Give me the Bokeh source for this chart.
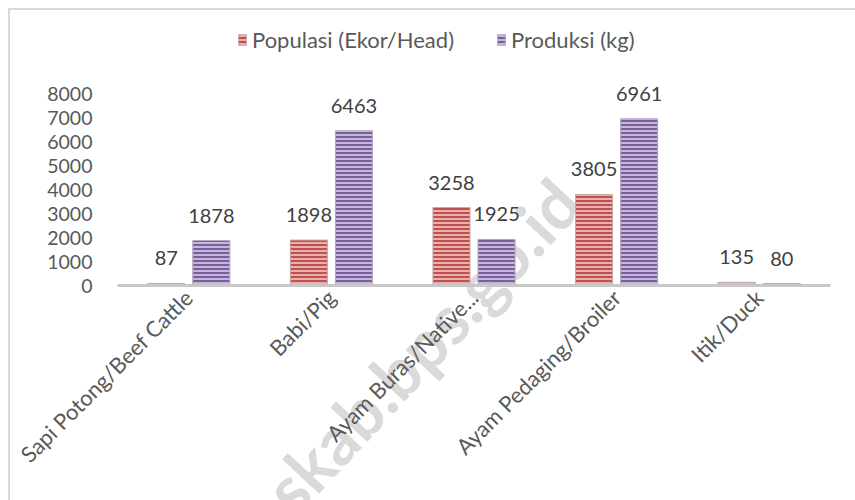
import math
from bokeh.plotting import figure
from bokeh.layouts import column
from bokeh.models import (FactorRange, Range1d, ColumnDataSource, Legend, LegendItem,
                          FixedTicker, Div)
from bokeh.transform import dodge
from bokeh.core.properties import value
from bokeh.embed import file_html
from bokeh.resources import INLINE

categories = ["Sapi Potong/Beef Cattle", "Babi/Pig", "Ayam Buras/Native...",
              "Ayam Pedaging/Broiler", "Itik/Duck"]
populasi = [87, 1898, 3258, 3805, 135]
produksi = [1878, 6463, 1925, 6961, 80]
series_names = ["Populasi (Ekor/Head)", "Produksi (kg)"]
y_ticks = [0, 1000, 2000, 3000, 4000, 5000, 6000, 7000, 8000]
watermark = "askab.bps.go.id"

FONT = "Lato"
src = ColumnDataSource(dict(
    cat=categories,
    pop=populasi,
    prod=produksi,
    pop_txt=[str(v) for v in populasi],
    prod_txt=[str(v) for v in produksi],
))

p = figure(x_range=FactorRange(*categories), y_range=Range1d(0, 11070),
           width=850, height=495, output_backend="svg", toolbar_location=None,
           min_border_left=117, min_border_right=20, min_border_top=20,
           min_border_bottom=210)
p.outline_line_color = None
p.background_fill_color = None
p.border_fill_color = None
p.xgrid.grid_line_color = None
p.ygrid.grid_line_color = None
p.x_range.range_padding = 0
p.x_range.group_padding = 0

r1 = p.vbar(x=dodge("cat", -0.158, range=p.x_range), top="pop", width=0.26, source=src,
            fill_color="#c0504d", line_color="#c9a9a8", line_width=1,
            hatch_pattern="horizontal_line", hatch_color="#f4c9c8",
            hatch_scale=4, hatch_weight=1.6)
r2 = p.vbar(x=dodge("cat", 0.158, range=p.x_range), top="prod", width=0.26, source=src,
            fill_color="#7a5f9e", line_color="#b3a8c2", line_width=1,
            hatch_pattern="horizontal_line", hatch_color="#d9cdea",
            hatch_scale=4, hatch_weight=1.6)

p.text(x=dodge("cat", -0.158, range=p.x_range), y="pop", text="pop_txt", source=src,
       text_align="center", text_baseline="alphabetic", y_offset=-25,
       text_font=value(FONT), text_font_size="20px", text_color="#404040")
p.text(x=dodge("cat", 0.158, range=p.x_range), y="prod", text="prod_txt", source=src,
       text_align="center", text_baseline="alphabetic", y_offset=-25,
       text_font=value(FONT), text_font_size="20px", text_color="#404040")

# axes
p.yaxis.ticker = FixedTicker(ticks=y_ticks)
p.yaxis.axis_line_color = None
p.yaxis.major_tick_line_color = None
p.yaxis.minor_tick_line_color = None
p.yaxis.major_tick_out = 0
p.yaxis.major_label_standoff = 25
p.yaxis.major_label_text_font = FONT
p.yaxis.major_label_text_font_size = "19.5px"
p.yaxis.major_label_text_color = "#595959"

p.xaxis.axis_line_color = "#c8c8c8"
p.xaxis.axis_line_width = 3
p.xaxis.major_tick_line_color = None
p.xaxis.major_tick_out = 0
p.xaxis.major_label_orientation = math.pi / 4
p.xaxis.major_label_standoff = 8
p.xaxis.major_label_text_font = FONT
p.xaxis.major_label_text_font_size = "22px"
p.xaxis.major_label_text_color = "#595959"

legend = Legend(items=[LegendItem(label=series_names[0], renderers=[r1]),
                       LegendItem(label=series_names[1], renderers=[r2])],
                location=(120, 232), orientation="horizontal",
                border_line_color=None, background_fill_alpha=0,
                padding=0, margin=0, spacing=42, label_standoff=5,
                glyph_width=10, glyph_height=13,
                label_text_font=FONT, label_text_font_size="22px",
                label_text_color="#595959")
p.add_layout(legend, "center")

frame_div = Div(text="", width=10, height=10,
                styles={"position": "absolute", "left": "3px", "top": "3px",
                        "width": "860px", "height": "500px",
                        "border-left": "2px solid #d9d9d9",
                        "border-top": "2px solid #d9d9d9"})
wm_div = Div(text=watermark, width=10, height=10,
             styles={"position": "absolute", "left": "55px", "top": "308px",
                     "width": "700px", "height": "90px", "line-height": "90px",
                     "text-align": "center", "white-space": "nowrap",
                     "font-family": FONT, "font-weight": "bold", "font-size": "68px",
                     "color": "#dadada", "transform": "rotate(-47deg)"})

layout = column(frame_div, wm_div, p, spacing=0)
open("out.html", "w").write(file_html(layout, INLINE))
